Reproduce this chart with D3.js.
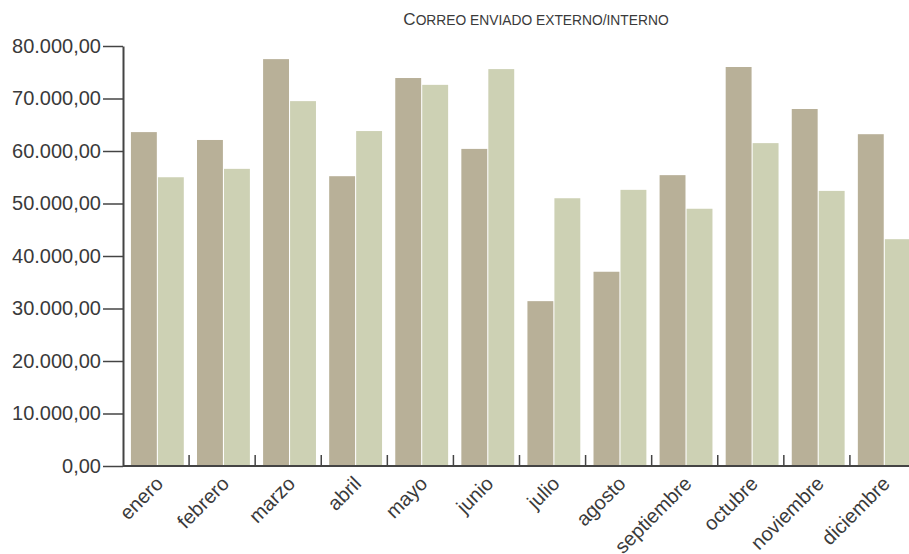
<!DOCTYPE html>
<html>
<head>
<meta charset="utf-8">
<script src="https://cdn.jsdelivr.net/npm/d3@7"></script>
<style>
  body { margin: 0; background: #fff; }
  text { font-family: "Liberation Sans", Arial, sans-serif; fill: #3a3a3a; }
</style>
</head>
<body>
<div id="chart"></div>
<script>
var width = 909;
var height = 554;

// data
var months = ["enero", "febrero", "marzo", "abril", "mayo", "junio",
              "julio", "agosto", "septiembre", "octubre", "noviembre", "diciembre"];
var externo = [63600, 62100, 77500, 55200, 73900, 60400, 31400, 37000, 55400, 76000, 68000, 63200];
var interno = [55000, 56600, 69500, 63800, 72600, 75600, 51000, 52600, 49000, 61500, 52400, 43200];
var series = ["externo", "interno"];
var colors = ["#b8b098", "#cdd1b4"];
var yTicks = [0, 10000, 20000, 30000, 40000, 50000, 60000, 70000, 80000];

var plotLeft = 123, plotRight = 916, plotTop = 46, plotBottom = 466;

var svg = d3.select("#chart").append("svg")
    .attr("width", width)
    .attr("height", height);

var esLocale = d3.formatLocale({decimal: ",", thousands: ".", grouping: [3], currency: ["", "€"]});
var fmt = esLocale.format(",.2f");

var y = d3.scaleLinear().domain([0, 80000]).range([plotBottom, plotTop]);

var x0 = d3.scaleBand().domain(months).range([plotLeft, plotRight])
    .paddingInner(0.2).paddingOuter(0.1).align(0.6);
var x1 = d3.scaleBand().domain(series).range([0, x0.bandwidth()]).paddingInner(0.04);

// title (small caps done by hand)
var title = svg.append("text")
    .attr("x", 536).attr("y", 25)
    .attr("text-anchor", "middle")
    .style("font-weight", "300");
title.append("tspan").attr("font-size", "17px").text("C");
title.append("tspan").attr("font-size", "13.8px").text("ORREO ENVIADO EXTERNO/INTERNO");

// bars
var rows = months.map((m, i) => ({month: m, values: [externo[i], interno[i]]}));
var groups = svg.selectAll("g.month")
    .data(rows).enter().append("g")
    .attr("class", "month")
    .attr("transform", d => "translate(" + x0(d.month) + ",0)");

groups.selectAll("rect")
    .data(d => d.values.map((v, j) => ({key: series[j], value: v, j: j})))
    .enter().append("rect")
    .attr("x", d => x1(d.key))
    .attr("width", x1.bandwidth())
    .attr("y", d => y(d.value))
    .attr("height", d => plotBottom - y(d.value))
    .attr("fill", d => colors[d.j]);

// y axis
var yAxis = svg.append("g")
    .attr("transform", "translate(" + plotLeft + ",0)")
    .call(d3.axisLeft(y).tickValues(yTicks).tickFormat(fmt)
        .tickSize(20).tickSizeOuter(0).tickPadding(2));
yAxis.select(".domain").attr("stroke", "#444").attr("stroke-width", 2);
yAxis.selectAll(".tick line").attr("stroke", "#444").attr("stroke-width", 1.5);
yAxis.selectAll(".tick text")
    .attr("font-size", "20px")
    .attr("fill", "#3a3a3a")
    .style("font-family", "'Liberation Sans', Arial, sans-serif");

// x axis: line, boundary ticks pointing up, rotated labels
svg.append("line")
    .attr("x1", plotLeft).attr("x2", width)
    .attr("y1", plotBottom).attr("y2", plotBottom)
    .attr("stroke", "#444").attr("stroke-width", 2);

svg.selectAll("line.xtick")
    .data(d3.range(1, months.length + 1)).enter().append("line")
    .attr("class", "xtick")
    .attr("x1", i => plotLeft + i * x0.step())
    .attr("x2", i => plotLeft + i * x0.step())
    .attr("y1", plotBottom).attr("y2", plotBottom - 11)
    .attr("stroke", "#444").attr("stroke-width", 1.5);

svg.selectAll("text.xlabel")
    .data(months).enter().append("text")
    .attr("class", "xlabel")
    .attr("text-anchor", "end")
    .attr("font-size", "20px")
    .attr("transform", d => "translate(" + (x0(d) + x0.bandwidth() / 2 - 3) + "," + (plotBottom + 9) + ") rotate(-45)")
    .attr("dy", "0.7em")
    .text(d => d);
</script>
</body>
</html>
